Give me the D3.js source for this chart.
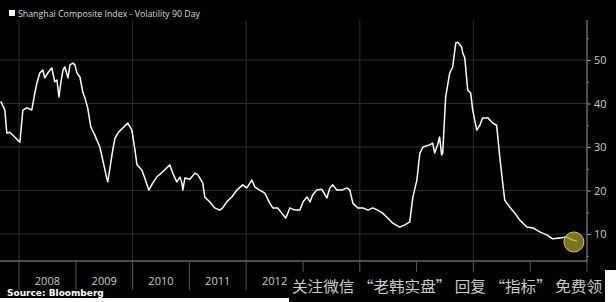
<!DOCTYPE html>
<html>
<head>
<meta charset="utf-8">
<script src="https://cdn.jsdelivr.net/npm/d3@7"></script>
<style>
  body { margin: 0; background: #fff; }
  svg { display: block; }
</style>
</head>
<body>
<div id="chart"></div>
<script>
    // Shanghai Composite Index - 90 day volatility
    const dates = [
      "2007-09-06", "2007-10-02", "2007-10-15", "2007-11-03", "2007-12-05", "2008-01-07",
      "2008-01-26", "2008-02-21", "2008-03-23", "2008-04-12", "2008-04-25", "2008-05-14",
      "2008-06-02", "2008-06-15", "2008-07-04", "2008-07-30", "2008-08-18", "2008-09-01",
      "2008-09-14", "2008-09-27", "2008-10-10", "2008-10-22", "2008-11-11", "2008-11-24",
      "2008-12-13", "2008-12-26", "2009-01-08", "2009-01-27", "2009-02-16", "2009-02-28",
      "2009-03-18", "2009-04-07", "2009-05-02", "2009-06-04", "2009-06-23", "2009-07-18",
      "2009-07-25", "2009-08-13", "2009-08-26", "2009-09-09", "2009-09-28", "2009-10-30",
      "2009-12-01", "2009-12-27", "2010-01-16", "2010-01-29", "2010-03-01", "2010-03-20",
      "2010-04-15", "2010-05-10", "2010-06-05", "2010-07-13", "2010-08-28", "2010-09-16",
      "2010-10-12", "2010-11-01", "2010-11-14", "2010-11-20", "2010-12-03", "2011-01-04",
      "2011-02-06", "2011-02-25", "2011-03-28", "2011-04-10", "2011-05-11", "2011-06-13",
      "2011-07-15", "2011-08-03", "2011-08-29", "2011-10-01", "2011-11-02", "2011-12-10",
      "2012-01-05", "2012-02-07", "2012-02-26", "2012-03-28", "2012-04-30", "2012-06-01",
      "2012-06-20", "2012-07-22", "2012-08-17", "2012-09-12", "2012-10-08", "2012-11-10",
      "2012-12-12", "2013-01-01", "2013-01-27", "2013-02-15", "2013-03-04", "2013-03-30",
      "2013-05-01", "2013-06-03", "2013-06-22", "2013-07-11", "2013-08-06", "2013-09-08",
      "2013-10-10", "2013-10-29", "2013-11-17", "2013-12-19", "2014-01-21", "2014-02-22",
      "2014-03-25", "2014-04-26", "2014-05-28", "2014-06-29", "2014-08-01", "2014-09-15",
      "2014-10-17", "2014-11-18", "2014-12-08", "2015-01-03", "2015-01-22", "2015-02-11",
      "2015-03-26", "2015-04-15", "2015-04-27", "2015-05-16", "2015-05-29", "2015-06-11",
      "2015-06-18", "2015-07-07", "2015-08-02", "2015-08-21", "2015-09-10", "2015-09-23",
      "2015-10-18", "2015-10-25", "2015-11-07", "2015-11-26", "2015-12-15", "2015-12-28",
      "2016-01-23", "2016-02-12", "2016-03-01", "2016-04-03", "2016-05-05", "2016-05-30",
      "2016-06-19", "2016-07-08", "2016-07-21", "2016-08-22", "2016-09-24", "2016-10-26",
      "2016-12-10", "2017-01-18", "2017-03-03", "2017-04-17", "2017-05-25", "2017-07-09",
      "2017-08-24", "2017-10-02", "2017-10-28"
    ];
    const volatility = [
      40.5, 38.5, 33.2, 33.4, 32.3, 31.1,
      38.5, 39.0, 38.5, 42.4, 44.7, 47.0,
      47.7, 45.9, 47.0, 48.2, 45.0, 45.4,
      41.5, 45.0, 47.7, 48.4, 45.9, 48.9,
      49.3, 48.9, 47.0, 46.1, 42.4, 41.3,
      39.0, 34.6, 32.8, 30.0, 27.0, 22.9,
      22.0, 26.3, 29.3, 32.0, 33.2, 34.4,
      35.5, 33.9, 29.3, 25.9, 24.7, 22.9,
      20.1, 21.7, 23.1, 24.3, 25.9, 24.0,
      22.0, 23.1, 21.7, 20.1, 22.9, 22.6,
      24.0, 23.6, 21.7, 18.5, 17.4, 16.0,
      15.5, 16.0, 17.4, 18.5, 20.1, 21.3,
      20.6, 22.4, 20.8, 20.1, 19.4, 17.1,
      16.0, 16.0, 14.8, 13.7, 16.0, 15.5,
      15.5, 17.4, 18.5, 17.4, 19.0, 20.1,
      20.3, 18.3, 20.6, 21.3, 20.1, 20.1,
      20.6, 20.1, 17.1, 16.0, 16.0, 15.5,
      16.0, 15.5, 14.8, 13.7, 12.5, 11.6,
      12.1, 12.8, 18.5, 22.4, 28.6, 30.0,
      30.5, 30.9, 28.6, 30.5, 32.3, 28.2,
      28.6, 41.5, 47.0, 48.4, 53.9, 54.1,
      53.0, 51.6, 50.5, 43.1, 42.4, 38.5,
      33.9, 35.0, 36.7, 36.7, 35.5, 35.0,
      27.7, 21.7, 17.8, 16.2, 14.8, 13.2,
      11.6, 11.4, 10.5, 9.8, 8.9, 9.1,
      9.3, 8.6, 8.4
    ];
    const yTicks = [10, 20, 30, 40, 50];
    const years = [2008, 2009, 2010, 2011, 2012, 2013, 2014, 2015, 2016, 2017];
    // labels that are not hidden behind the watermark box
    const yearLabels = [2008, 2009, 2010, 2011, 2012];

    const W = 616, H = 302;
    const parse = d3.timeParse("%Y-%m-%d");
    const data = dates.map((d, i) => ({ date: parse(d), v: volatility[i] }));

    const svg = d3.select("#chart").append("svg")
      .attr("width", W).attr("height", H);

    // black panel
    svg.append("rect").attr("x", 0).attr("y", 0).attr("width", W).attr("height", 298).attr("fill", "#000");

    // plot area
    const x = d3.scaleTime()
      .domain([new Date(2007, 8, 1), new Date(2018, 0, 1)])
      .range([0, 587]);
    const y = d3.scaleLinear()
      .domain([3.8, 59.2])
      .range([261, 20]);

    // grid
    svg.append("g").selectAll("line").data(yTicks).join("line")
      .attr("x1", 0).attr("x2", 587)
      .attr("y1", d => y(d)).attr("y2", d => y(d))
      .attr("stroke", "#2e2e2e").attr("stroke-width", 1);
    svg.append("g").selectAll("line").data(years.filter(d => d % 2 === 0)).join("line")
      .attr("x1", d => x(new Date(d, 0, 1))).attr("x2", d => x(new Date(d, 0, 1)))
      .attr("y1", 20).attr("y2", 261)
      .attr("stroke", "#2e2e2e").attr("stroke-width", 1);

    // right axis
    const yAxis = svg.append("g")
      .attr("transform", "translate(587,0)")
      .call(d3.axisRight(y).tickValues(yTicks).tickSize(4).tickPadding(3).tickFormat(d3.format("d")));
    yAxis.select(".domain").remove();
    yAxis.selectAll("line").attr("stroke", "#999");
    yAxis.selectAll("text").attr("fill", "#ccc").style("font-family", "Open Sans, sans-serif").style("font-size", "11px");
    svg.append("g").attr("transform", "translate(587,0)")
      .call(d3.axisRight(y).tickValues([5, 15, 25, 35, 45, 55]).tickSize(2).tickFormat(""))
      .call(g => g.select(".domain").remove())
      .selectAll("line").attr("stroke", "#777");

    // frame (right + bottom)
    svg.append("line").attr("x1", 587).attr("x2", 587).attr("y1", 20).attr("y2", 261)
      .attr("stroke", "#999");
    svg.append("line").attr("x1", 0).attr("x2", 587).attr("y1", 261).attr("y2", 261)
      .attr("stroke", "#999");

    // year separators and labels under the plot
    const xAxis = svg.append("g").attr("transform", "translate(0,261)");
    xAxis.selectAll("line").data(years.concat([2018])).join("line")
      .attr("x1", d => x(new Date(d, 0, 1))).attr("x2", d => x(new Date(d, 0, 1)))
      .attr("y1", 0).attr("y2", 29)
      .attr("stroke", "#555");
    xAxis.selectAll("text").data(yearLabels).join("text")
      .attr("x", d => x(new Date(d, 6, 2)))
      .attr("y", 24)
      .attr("text-anchor", "middle")
      .attr("fill", "#ccc")
      .style("font-family", "Open Sans, sans-serif")
      .style("font-size", "11px")
      .text(d => d);

    // volatility line
    const line = d3.line().x(d => x(d.date)).y(d => y(d.v));
    svg.append("path").datum(data)
      .attr("d", line)
      .attr("fill", "none")
      .attr("stroke", "#fff")
      .attr("stroke-width", 1.5)
      .attr("stroke-linejoin", "round");

    // highlight circle on the latest value
    const last = data[data.length - 1];
    svg.append("circle")
      .attr("cx", x(last.date) - 3).attr("cy", y(last.v) + 1).attr("r", 10)
      .attr("fill", "rgba(170,160,40,0.72)")
      .attr("stroke", "#d0c850").attr("stroke-width", 1);

    // legend
    svg.append("rect").attr("x", 9).attr("y", 10).attr("width", 6).attr("height", 6).attr("fill", "#fff");
    svg.append("text").attr("x", 18).attr("y", 17)
      .attr("fill", "#ddd")
      .attr("textLength", 182).attr("lengthAdjust", "spacingAndGlyphs")
      .style("font-family", "Open Sans, sans-serif").style("font-size", "9.5px")
      .text("Shanghai Composite Index - Volatility 90 Day");

    // source
    svg.append("text").attr("x", 7).attr("y", 296)
      .attr("fill", "#fff")
      .style("font-family", "DejaVu Sans, sans-serif").style("font-size", "9px").style("font-weight", "bold")
      .text("Source: Bloomberg");

    // white margin bottom right, watermark box
    svg.append("rect").attr("x", 0).attr("y", 298).attr("width", W).attr("height", 4).attr("fill", "#fff");
    svg.append("rect").attr("x", 605).attr("y", 270).attr("width", 11).attr("height", 32).attr("fill", "#fff");
    svg.append("rect").attr("x", 289).attr("y", 272).attr("width", 316).attr("height", 30).attr("fill", "#000");
    svg.append("text").attr("x", 292).attr("y", 292)
      .attr("fill", "#ccc")
      .attr("textLength", 310).attr("lengthAdjust", "spacingAndGlyphs")
      .style("font-family", "Noto Sans CJK SC, sans-serif").style("font-size", "15px")
      .text("关注微信 “老韩实盘” 回复 “指标” 免费领");
</script>
</body>
</html>
